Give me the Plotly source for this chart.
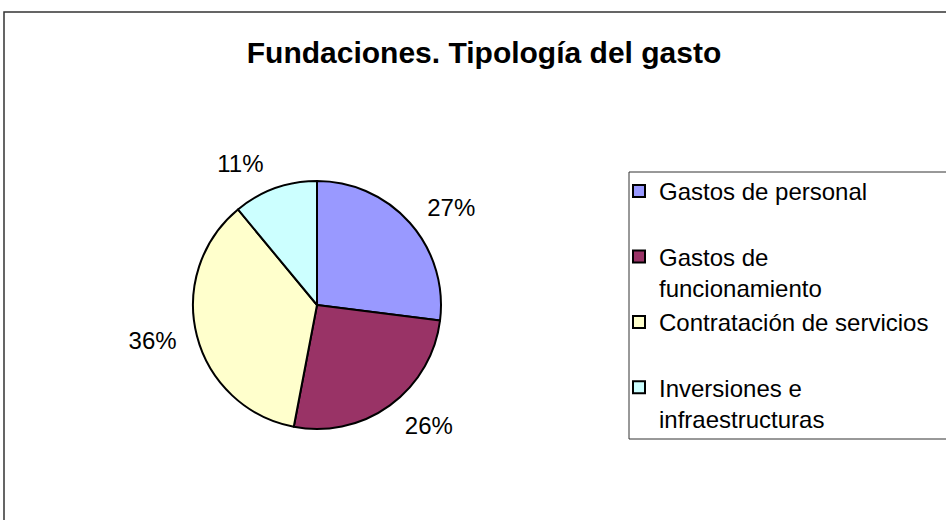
import plotly.graph_objects as go

# datos del gráfico
categorias = [
    "Gastos de personal<br> ",
    "Gastos de<br>funcionamiento",
    "Contratación de servicios<br> ",
    "Inversiones e<br>infraestructuras",
]
porcentajes = [27, 26, 36, 11]
colores = ["#9999FF", "#993366", "#FFFFCC", "#CCFFFF"]

fuente = "Liberation Sans, Arial, sans-serif"
W, H = 946, 520

fig = go.Figure()

# tarta principal (sin texto)
fig.add_trace(go.Pie(
    labels=categorias,
    values=porcentajes,
    sort=False,
    direction="clockwise",
    rotation=0,
    marker=dict(colors=colores, line=dict(color="black", width=2)),
    textinfo="none",
    domain=dict(x=[193 / W, 441 / W], y=[91 / H, 339 / H]),
    hoverinfo="label+percent",
))

# tarta transparente algo mayor, solo para alejar las etiquetas del borde
fig.add_trace(go.Pie(
    labels=categorias,
    values=porcentajes,
    sort=False,
    direction="clockwise",
    rotation=0,
    marker=dict(colors=["rgba(0,0,0,0)"] * len(porcentajes),
                line=dict(width=0)),
    texttemplate="%{percent:.0%}",
    textposition="outside",
    textfont=dict(family=fuente, size=24, color="black"),
    domain=dict(x=[179 / W, 455 / W], y=[77 / H, 353 / H]),
    hoverinfo="skip",
    showlegend=False,
))

fig.update_layout(
    width=W, height=H,
    margin=dict(l=0, r=0, t=0, b=0, autoexpand=False),
    paper_bgcolor="white",
    plot_bgcolor="white",
    title=dict(
        text="<b>Fundaciones. Tipología del gasto</b>",
        x=484 / W, xanchor="center", y=1 - 52 / H, yanchor="middle",
        font=dict(family=fuente, size=30, color="black"),
    ),
    legend=dict(
        x=619 / W, xanchor="left", y=1 - 169 / H, yanchor="top",
        font=dict(family=fuente, size=24, color="black"),
        borderwidth=0, bgcolor="rgba(0,0,0,0)",
        valign="top", traceorder="normal",
    ),
    showlegend=True,
    shapes=[
        # marco del gráfico
        dict(type="rect", xref="paper", yref="paper",
             x0=4 / W, x1=1.05, y0=-0.05, y1=1 - 12 / H,
             line=dict(color="#333333", width=1.5)),
        # marco de la leyenda
        dict(type="rect", xref="paper", yref="paper",
             x0=629 / W, x1=1.05, y0=1 - 439 / H, y1=1 - 172 / H,
             line=dict(color="#333333", width=1)),
    ],
)

fig.write_html("out.html", config={"displayModeBar": False},
               post_script="document.body.style.margin='0px';")
